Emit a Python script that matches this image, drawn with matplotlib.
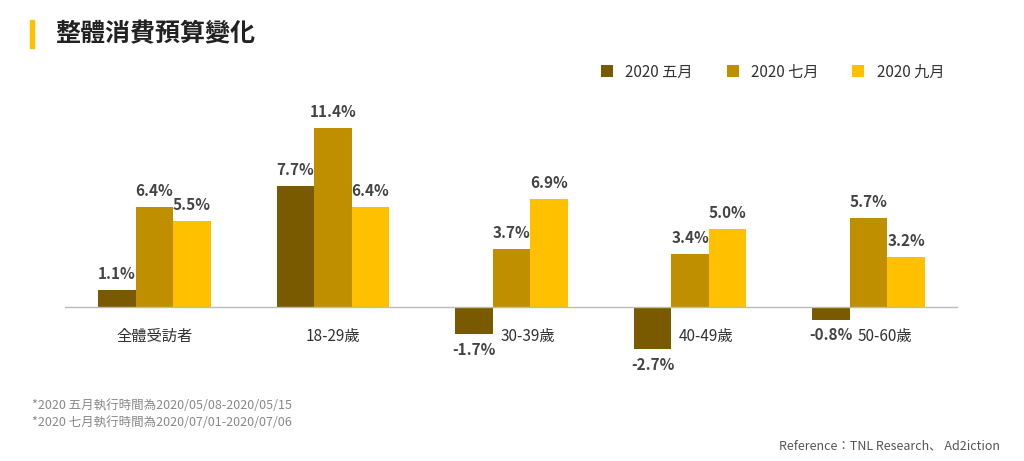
import matplotlib
matplotlib.use("Agg")
import matplotlib.pyplot as plt
from matplotlib import font_manager
import numpy as np

# pick an installed sans CJK font
cjk = [f.name for f in font_manager.fontManager.ttflist if 'CJK' in f.name and 'Sans' in f.name]
pref = [n for n in cjk if 'TC' in n] or cjk
plt.rcParams['font.family'] = (pref[:1] if pref else []) + ['DejaVu Sans']

categories = ['全體受訪者', '18-29歲', '30-39歲', '40-49歲', '50-60歲']
series_names = ['2020 五月', '2020 七月', '2020 九月']
may = [1.1, 7.7, -1.7, -2.7, -0.8]
jul = [6.4, 11.4, 3.7, 3.4, 5.7]
sep = [5.5, 6.4, 6.9, 5.0, 3.2]
colors = ['#7a5a00', '#c08f00', '#ffc000']

fig = plt.figure(figsize=(10.24, 4.61), dpi=100)
ax = fig.add_axes([65/1024, 1-362/461, (958-65)/1024, (362-111)/461])

x = np.arange(len(categories))
w = 0.21
for i, (vals, name, c) in enumerate(zip([may, jul, sep], series_names, colors)):
    xs = x + (i - 1) * w
    ax.bar(xs, vals, w, color=c, label=name)
    for xi, v in zip(xs, vals):
        if v >= 0:
            ax.text(xi, v + 0.5, f'{v:.1f}%', ha='center', va='bottom',
                    fontsize=11, fontweight='bold', color='#444444')
        else:
            ax.text(xi, v - 0.5, f'{v:.1f}%', ha='center', va='top',
                    fontsize=11, fontweight='bold', color='#444444')

for xi, cat in zip(x, categories):
    ax.text(xi + (0.09 if xi > 1 else 0), -1.9, cat, ha='center', va='center',
            fontsize=11, color='#333333')

ax.axhline(0, color='#bbbbbb', lw=1)
ax.set_xlim(-0.5, 4.5)
ax.set_ylim(-3.5, 12.5)
ax.axis('off')

ax.legend(loc='center right', bbox_to_anchor=(1.0, 1.155), ncol=3, frameon=False,
          fontsize=11, handlelength=0.8, handleheight=0.8, columnspacing=2.2,
          handletextpad=0.8, labelcolor='#333333')

fig.patches.append(plt.Rectangle((30/1024, 1-48/461), 4/1024, 28/461,
                                 transform=fig.transFigure, color='#ffc000'))
fig.text(55/1024, 1-34/461, '整體消費預算變化', fontsize=18, fontweight='bold',
         va='center', color='#222222')
fig.text(32/1024, 1-405/461, '*2020 五月執行時間為2020/05/08-2020/05/15', fontsize=9,
         color='#888888', va='center')
fig.text(32/1024, 1-422/461, '*2020 七月執行時間為2020/07/01-2020/07/06', fontsize=9,
         color='#888888', va='center')
fig.text(1000/1024, 1-446/461, 'Reference：TNL Research、 Ad2iction', fontsize=9,
         color='#555555', ha='right', va='center')

fig.savefig('out.png', dpi=100, facecolor='white')
